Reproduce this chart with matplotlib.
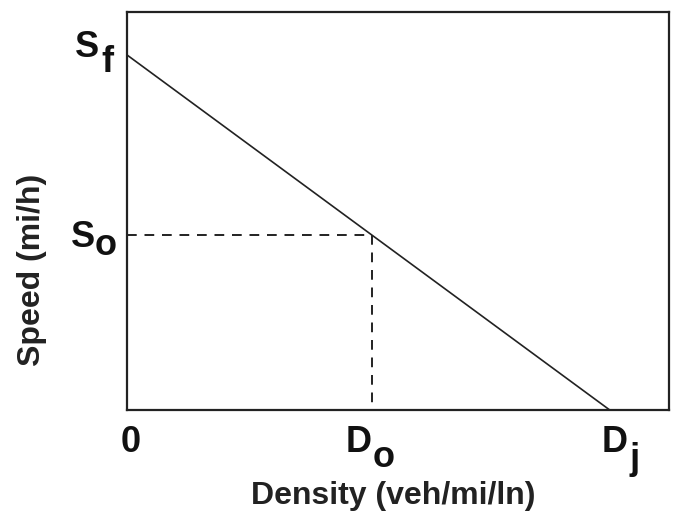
import numpy as np
import matplotlib.pyplot as plt

plt.rcParams['font.family'] = ['Liberation Sans', 'DejaVu Sans']

# speed-density relationship (arbitrary units)
density = [0, 45.2, 89.1]
speed = [89.2, 44.0, 0]

# axis labels: main letter + full-size lowered subscript
x_ticks = [0, 45.2, 89.1]
x_main = ['0', 'D', 'D']
x_sub = ['', 'o', 'j']
y_ticks = [89.2, 44.0]
y_main = ['S', 'S']
y_sub = ['f', 'o']

# label placement (pixels): main-letter offset, subscript gap and drop
x_dx = [-6, -26, -8]
x_gap = [0, 1, 2]
x_drop = [0, 15, 17]
y_dx = [-52, -56]
y_dy = [-2, -12]
y_gap = [2, 0]
y_drop = [15, 8]

fig = plt.figure(figsize=(6.79, 5.19), dpi=100)
ax = fig.add_axes([0.187, 0.210, 0.798, 0.767])

ax.plot([density[0], density[2]], [speed[0], speed[2]], color='#222222', lw=1.2)
# dashed guides to the optimum point
ax.plot([0, density[1]], [speed[1], speed[1]], color='#222222', lw=1.4, ls=(0, (5, 4)))
ax.plot([density[1], density[1]], [speed[1], 0], color='#222222', lw=1.4, ls=(0, (5, 4)))

ax.set_xlim(0, 100)
ax.set_ylim(0, 100)
ax.set_xticks([])
ax.set_yticks([])

fs = 26
kw = dict(fontsize=fs, fontweight='bold', color='#111111', textcoords='offset pixels',
          annotation_clip=False)

for i in range(len(x_ticks)):
    t = ax.annotate(x_main[i], xy=(x_ticks[i], 0), xycoords=('data', 'axes fraction'),
                    xytext=(x_dx[i], -42), ha='left', va='baseline', **kw)
    if x_sub[i]:
        ax.annotate(x_sub[i], xy=(1, 0), xycoords=t, xytext=(x_gap[i], -x_drop[i]),
                    ha='left', va='bottom', **kw)

for i in range(len(y_ticks)):
    t = ax.annotate(y_main[i], xy=(0, y_ticks[i]), xycoords=('axes fraction', 'data'),
                    xytext=(y_dx[i], y_dy[i]), ha='left', va='baseline', **kw)
    ax.annotate(y_sub[i], xy=(1, 0), xycoords=t, xytext=(y_gap[i], -y_drop[i]),
                ha='left', va='bottom', **kw)

for s in ax.spines.values():
    s.set_linewidth(1.6)
    s.set_color('#222222')

ax.set_xlabel('Density (veh/mi/ln)', fontsize=23, fontweight='bold', color='#222222')
ax.set_ylabel('Speed (mi/h)', fontsize=23, fontweight='bold', color='#222222')
ax.xaxis.set_label_coords(0.491, -0.178)
ax.yaxis.set_label_coords(-0.148, 0.352)

fig.savefig('out.png', dpi=100)
